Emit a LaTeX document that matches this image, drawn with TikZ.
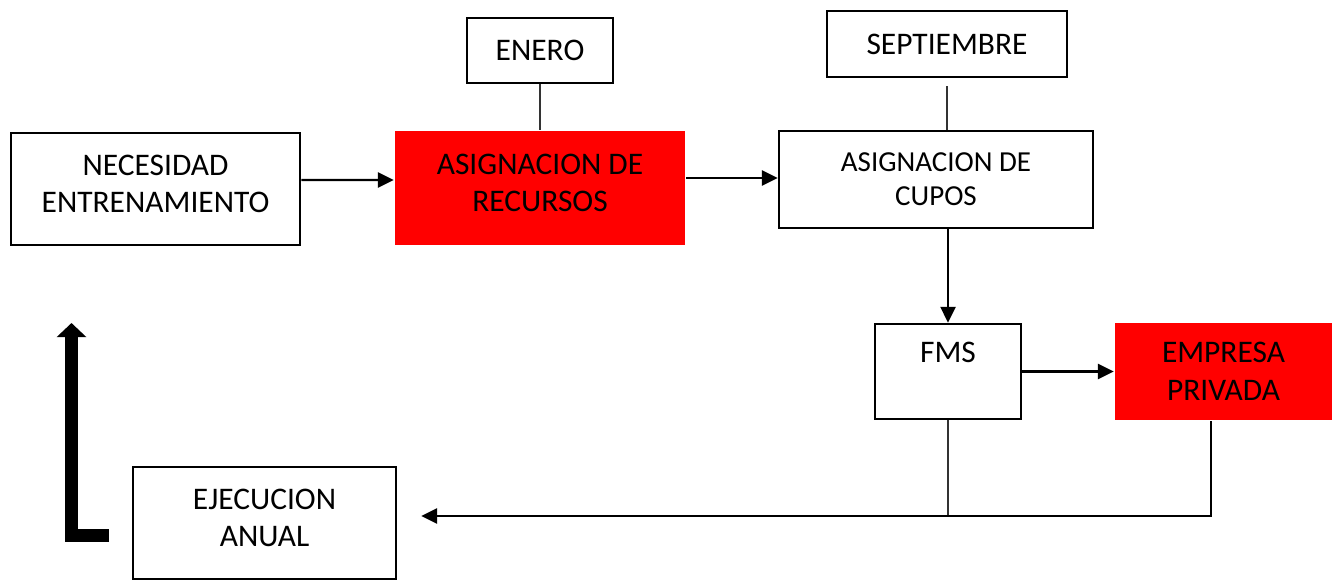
\documentclass[tikz,border=0pt]{standalone}
\usepackage{fontspec}
\setmainfont{Carlito}
\usetikzlibrary{arrows.meta,positioning,calc}
\definecolor{fred}{HTML}{FF0000}

\tikzset{
  box/.style={draw,line width=1.5pt,inner sep=0pt,align=center,
    font=\fontsize{17.9}{21.5}\selectfont},
  raised/.style={text depth=6pt},
  redbox/.style={box,draw=none,fill=fred},
  arr/.style={line width=1.4pt,-{Triangle[length=9pt,width=8.5pt]}},
  thin line/.style={line width=0.6pt,black!80},
  bigarr/.style={line width=7.4pt,line join=miter,-{Triangle[length=8pt,width=16.4pt]}}
}

\begin{document}
\begin{tikzpicture}[x=0.02cm, y=-0.02cm]
\useasboundingbox (0,0) rectangle (1334,580);
% ================= top row =================
\node[box,raised,minimum width=5.78cm,minimum height=2.24cm] (need) at (155.5,189) {NECESIDAD\\ENTRENAMIENTO};
\node[redbox,raised,minimum width=5.8cm,minimum height=2.28cm] (recursos) at (540,188) {ASIGNACION DE\\RECURSOS};
\node[box,minimum width=2.92cm,minimum height=1.3cm] (enero) at (540,50.5) {ENERO};
\node[box,minimum width=4.8cm,minimum height=1.32cm] (sept) at (947,44) {SEPTIEMBRE};
\node[box,minimum width=6.28cm,minimum height=1.94cm,font=\fontsize{16.5}{19.3}\selectfont] (cupos) at (936,179.5) {ASIGNACION DE\\CUPOS};
% ================= middle row =================
\node[box,minimum width=2.92cm,minimum height=1.9cm] (fms) at (948,371.5) {FMS\\~};
\node[redbox,minimum width=4.34cm,minimum height=1.94cm] (empresa) at (1223.5,371.5) {EMPRESA\\PRIVADA};
% ================= bottom row =================
\node[box,raised,minimum width=5.26cm,minimum height=2.24cm] (ejec) at (264.5,523) {EJECUCION\\ANUAL};
\coordinate (back) at ([xshift=0.48cm,yshift=0.14cm]ejec.east);
% ================= connectors =================
\draw[arr] ([yshift=0.18cm]need.east) -- ([yshift=0.16cm]recursos.west);
\draw[arr] ([yshift=0.2cm]recursos.east) -- ([yshift=0.2cm]recursos.east -| cupos.west);
\draw[thin line] (enero.south) -- (recursos.north);
\draw[thin line] ([yshift=-0.16cm]sept.south) -- (sept.south |- cupos.north);
\draw[arr] (fms.north |- cupos.south) -- (fms.north);
\draw[arr] (fms.east) -- (empresa.west);
\draw[thin line] (fms.south) -- (fms.south |- back);
\draw[arr] ([xshift=-0.25cm]empresa.south) |- (back);
% big return arrow
\draw[bigarr] (109,535) -- (71.5,535) -- (71.5,323);
\end{tikzpicture}
\end{document}
